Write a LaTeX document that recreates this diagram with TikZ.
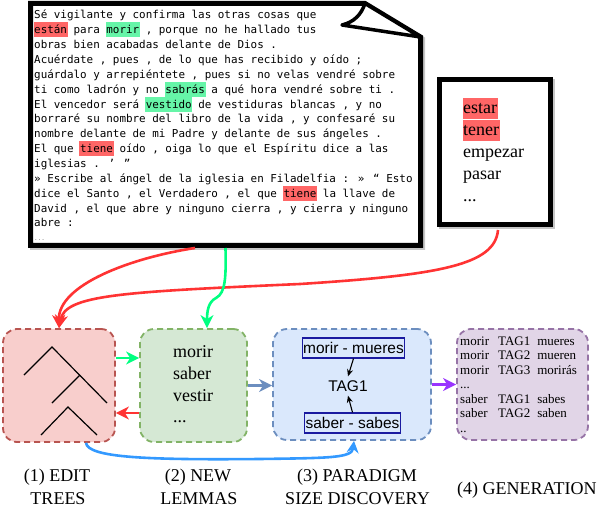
\documentclass[tikz,border=0pt]{standalone}
\usepackage{fontspec}
\usetikzlibrary{arrows.meta}
\newfontfamily\monofnt{DejaVu Sans Mono}
\newfontfamily\seriffnt{Liberation Serif}
\newfontfamily\sansfnt{Liberation Sans}
\definecolor{hlred}{HTML}{FF6666}
\definecolor{hlgreen}{HTML}{66F5A8}
\definecolor{redfill}{HTML}{F8CECC}\definecolor{redline}{HTML}{B85450}
\definecolor{greenfill}{HTML}{D5E8D4}\definecolor{greenline}{HTML}{82B366}
\definecolor{bluefill}{HTML}{DAE8FC}\definecolor{blueline}{HTML}{6C8EBF}
\definecolor{purplefill}{HTML}{E1D5E7}\definecolor{purpleline}{HTML}{9673A6}
\definecolor{arrred}{HTML}{FF3333}
\definecolor{arrgreen}{HTML}{00FF80}
\definecolor{arrblue}{HTML}{3399FF}
\definecolor{arrpurple}{HTML}{9933FF}
\definecolor{pairline}{HTML}{1A1AA0}
\newcommand\hlmark[4]{\setbox0\hbox{#4}\hbox{\kern-0.7pt\rlap{\smash{\color{#1}\rule[-#2]{\dimexpr\wd0+1.4pt\relax}{#3}}}\kern0.7pt\box0}}
\newcommand\hlr[1]{\hlmark{hlred}{3.5pt}{15pt}{#1}}
\newcommand\hlg[1]{\hlmark{hlgreen}{3.5pt}{15pt}{#1}}
\newcommand\hlbig[1]{\hlmark{hlred}{5pt}{21pt}{#1}}
\newcommand\docframe{(30.5,245.5) -- (30.5,3.5) -- (365,3.5) -- (420.5,37) -- (420.5,245.5) -- cycle}
\begin{document}
\begin{tikzpicture}[x=1pt,y=-1pt,
  docline/.style={anchor=base west, inner sep=0, font=\monofnt\fontsize{10.9}{14}\selectfont},
  stage/.style={draw, dash pattern=on 6pt off 4pt, line width=1.8pt, rounded corners=14pt, inner sep=0},
  lbl/.style={anchor=base, inner sep=0, font=\seriffnt\fontsize{18}{22}\selectfont},
  listtext/.style={anchor=base west, inner sep=0, font=\seriffnt\fontsize{18}{22}\selectfont},
  flow/.style={line width=2.6pt, -{Stealth[length=13pt,width=13pt,inset=4pt]}},
  pairbox/.style={draw=pairline, line width=1.2pt, fill=bluefill, inner xsep=1pt, inner ysep=0pt, minimum height=20pt, font=\sansfnt\fontsize{15.5}{18}\selectfont}]
\useasboundingbox (0,0) rectangle (598,508);

% ---------- document box ----------
\node[minimum width=390pt, minimum height=242pt, inner sep=0, outer sep=0] (doc) at (225.5,124.5) {};
\begin{scope}[shift={(2,2)}]
  \draw[gray!45, line width=5pt] \docframe;
\end{scope}
\draw[line width=5pt, fill=white, line join=miter] \docframe;
\draw[line width=3.5pt, fill=white, line join=round] (365,3.5) .. controls (361,15) and (354,22) .. (342,25) -- (420.5,37) -- cycle;

\node[docline] (t1) at (34,19) {Sé vigilante y confirma las otras cosas que};
\node[docline] (t2) at (34,33.85) {\hlr{están} para \hlg{morir} , porque no he hallado tus};
\node[docline] (t3) at (34,48.7) {obras bien acabadas delante de Dios .};
\node[docline] (t4) at (34,63.55) {Acuérdate , pues , de lo que has recibido y oído ;};
\node[docline] (t5) at (34,78.4) {guárdalo y arrepiéntete , pues si no velas vendré sobre};
\node[docline] (t6) at (34,93.25) {ti como ladrón y no \hlg{sabrás} a qué hora vendré sobre ti .};
\node[docline] (t7) at (34,108.1) {El vencedor será \hlg{vestido} de vestiduras blancas , y no};
\node[docline] (t8) at (34,122.95) {borraré su nombre del libro de la vida , y confesaré su};
\node[docline] (t9) at (34,137.8) {nombre delante de mi Padre y delante de sus ángeles .};
\node[docline] (t10) at (34,152.65) {El que \hlr{tiene} oído , oiga lo que el Espíritu dice a las};
\node[docline] (t11) at (34,167.5) {iglesias . ’ ”};
\node[docline] (t12) at (34,182.35) {» Escribe al ángel de la iglesia en Filadelfia : » “ Esto};
\node[docline] (t13) at (34,197.2) {dice el Santo , el Verdadero , el que \hlr{tiene} la llave de};
\node[docline] (t14) at (34,212.05) {David , el que abre y ninguno cierra , y cierra y ninguno};
\node[docline] (t15) at (34,226.9) {abre :};
\node[anchor=base west, inner sep=0, font=\monofnt\fontsize{6}{7}\selectfont, text=gray] (t16) at (34,241) {...};

% ---------- lemma list box ----------
\draw[gray!45, line width=5pt] (441.5,81.5) rectangle (552.5,227);
\node[draw, line width=5pt, fill=white, minimum width=111pt, minimum height=145.5pt, inner sep=0] (lem) at (495,152.25) {};
\node[listtext] (lemtext) at (463,114) {\begin{tabular}[t]{@{}l@{}}\hlbig{estar}\\\hlbig{tener}\\empezar\\pasar\\...\end{tabular}};

% ---------- stage boxes ----------
\node[stage, draw=redline, fill=redfill, minimum width=112pt, minimum height=113pt] (b1) at (59,385.5) {};
\node[stage, draw=greenline, fill=greenfill, minimum width=107pt, minimum height=113pt] (b2) at (193.5,385.5) {};
\node[stage, draw=blueline, fill=bluefill, minimum width=158pt, minimum height=111pt] (b3) at (352,384.5) {};
\node[stage, draw=purpleline, fill=purplefill, minimum width=131pt, minimum height=111pt] (b4) at (522.5,384.5) {};

% edit trees
\draw[line width=1.2pt] (24,375) -- (52,347) -- (107,403);
\draw[line width=1.2pt] (52,403) -- (80,375);
\draw[line width=1.2pt] (41,435) -- (68,407) -- (97,435);

% new lemmas
\node[listtext] (lemmas) at (173,357) {\begin{tabular}[t]{@{}l@{}}morir\\saber\\vestir\\...\end{tabular}};

% paradigm size discovery
\node[pairbox] (p1) at (353.5,348) {morir - mueres};
\node[inner sep=4pt, font=\sansfnt\fontsize{15.5}{18}\selectfont] (tag) at (348,386) {TAG1};
\node[pairbox] (p2) at (352.5,423) {saber - sabes};
\draw[line width=1.1pt, -{Stealth[length=7pt,width=6pt]}] (p1.south) -- (tag.north);
\draw[line width=1.1pt, -{Stealth[length=7pt,width=6pt]}] (p2.north) -- (tag.south);

% generation
\node[anchor=base west, inner sep=0, font=\seriffnt\fontsize{13}{14.6}\selectfont] (gen) at (460,345) {\begin{tabular}[t]{@{}l@{\hspace{9pt}}l@{\hspace{7pt}}l@{}}
morir & TAG1 & mueres\\
morir & TAG2 & mueren\\
morir & TAG3 & morirás\\
...\\
saber & TAG1 & sabes\\
saber & TAG2 & saben\\
..
\end{tabular}};

% labels
\node[lbl] (l1a) at (57,481) {(1) EDIT};
\node[lbl] (l1b) at (58,504.5) {TREES};
\node[lbl] (l2a) at (198,481) {(2) NEW};
\node[lbl] (l2b) at (199,504.5) {LEMMAS};
\node[lbl] (l3a) at (357,481) {(3) PARADIGM};
\node[lbl] (l3b) at (357.5,504.5) {SIZE DISCOVERY};
\node[lbl, anchor=base west] (l4) at (457,494) {(4) GENERATION};

% ---------- connectors ----------
\draw[flow, arrred] ([xshift=-30.5pt,yshift=-2.5pt]doc.south) .. controls (130,258) and (58,285) .. (b1.north);
\draw[flow, arrred] ([xshift=3pt,yshift=-2.5pt]lem.south) .. controls (495,265) and (440,275) .. (300,284) .. controls (120,292) and (65,295) .. (b1.north);
\draw[flow, arrgreen] ([yshift=-2.5pt]doc.south) .. controls (226,275) and (226,293) .. (216,298) .. controls (208,302) and (207,312) .. (b2.north -| 207,0);
\draw[flow, arrgreen] ([yshift=27.5pt]b1.east) -- ([yshift=27.5pt]b2.west);
\draw[flow, arrred] ([yshift=-27.5pt]b2.west) -- ([yshift=-27.5pt]b1.east);
\draw[flow, blueline] (b2.east) -- (b2.east -| b3.west);
\draw[flow, arrpurple] (b3.east) -- (b3.east -| b4.west);
\draw[arrblue, line width=2.6pt, -{Stealth[length=12pt,width=12pt,inset=4pt]}] ([xshift=27pt]b1.south) .. controls (88,458) and (150,460) .. (260,459) .. controls (330,458) and (352,458) .. ([xshift=2pt]b3.south);
\end{tikzpicture}
\end{document}
